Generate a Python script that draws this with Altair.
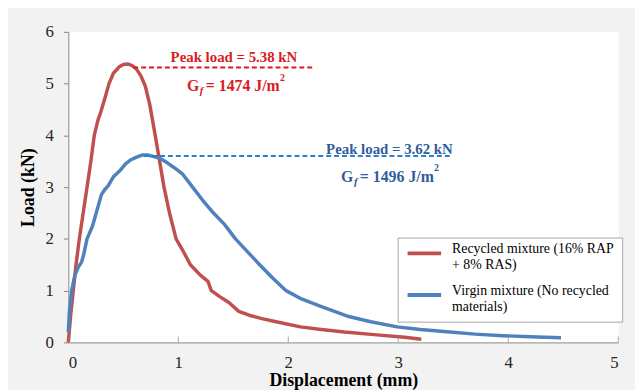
import altair as alt
import pandas as pd

# ---- data ----
series_names = ["Recycled mixture (16% RAP + 8% RAS)", "Virgin mixture (No recycled materials)"]
series_colors = ["#C0504D", "#4F81BD"]

rec_x = [0, 0.02, 0.045, 0.07, 0.10, 0.135, 0.17, 0.205, 0.236, 0.27, 0.295, 0.33, 0.37, 0.41, 0.46, 0.50,
         0.54, 0.58, 0.62, 0.66, 0.70, 0.74, 0.79, 0.83, 0.87, 0.92, 0.98, 1.04, 1.11, 1.20, 1.27, 1.30,
         1.38, 1.46, 1.55, 1.65, 1.76, 1.89, 2.11, 2.30, 2.51, 2.78, 3.06, 3.21]
rec_y = [0, 0.5, 1.0, 1.5, 2.0, 2.5, 3.0, 3.5, 4.0, 4.3, 4.45, 4.7, 5.0, 5.2, 5.32, 5.37,
         5.38, 5.35, 5.28, 5.15, 4.95, 4.6, 4.0, 3.5, 3.0, 2.5, 2.0, 1.78, 1.5, 1.3, 1.18, 1.0,
         0.88, 0.77, 0.6, 0.52, 0.46, 0.4, 0.3, 0.25, 0.2, 0.15, 0.1, 0.06]

vir_x = [0, 0.01, 0.03, 0.06, 0.09, 0.12, 0.14, 0.17, 0.22, 0.26, 0.30, 0.33, 0.36, 0.41, 0.47, 0.52,
         0.57, 0.62, 0.67, 0.72, 0.78, 0.84, 0.90, 0.96, 1.04, 1.13, 1.22, 1.32, 1.42, 1.52, 1.63, 1.74,
         1.86, 1.98, 2.12, 2.29, 2.42, 2.55, 2.75, 2.99, 3.20, 3.47, 3.70, 3.95, 4.20, 4.48]
vir_y = [0.2, 0.6, 1.0, 1.3, 1.45, 1.55, 1.7, 2.0, 2.25, 2.55, 2.85, 2.95, 3.02, 3.2, 3.32, 3.45,
         3.53, 3.58, 3.62, 3.62, 3.59, 3.55, 3.47, 3.38, 3.25, 3.0, 2.75, 2.5, 2.28, 2.0, 1.75, 1.5,
         1.24, 1.0, 0.84, 0.7, 0.6, 0.5, 0.4, 0.3, 0.25, 0.2, 0.16, 0.13, 0.11, 0.09]

# annotations
peak_x0 = [0.59, 0.69]
peak_x1 = [2.23, 3.49]
peak_line_y = [5.31, 3.60]
peak_text = ["Peak load = 5.38 kN", "Peak load = 3.62 kN"]
peak_text_x = [1.506, 2.92]
peak_text_y = [5.41, 3.645]
gf_x = [1.079, 2.48]
gf_y = [4.85, 3.10]
gf_text = ["= 1474 J/m", "= 1496 J/m"]
text_colors = ["#D91C24", "#2F5E9B"]
dash_colors = ["#E8141C", "#2A7FD4"]

x_ticks = [0, 1, 2, 3, 4, 5]
y_ticks = [0, 1, 2, 3, 4, 5, 6]

FONT = "'Liberation Serif', 'Times New Roman', serif"

curves = pd.concat([
    pd.DataFrame({"x": rec_x, "y": rec_y, "series": series_names[0], "order": range(len(rec_x))}),
    pd.DataFrame({"x": vir_x, "y": vir_y, "series": series_names[1], "order": range(len(vir_x))}),
])

ann = pd.DataFrame({
    "x0": peak_x0, "x1": peak_x1, "ly": peak_line_y,
    "ptext": peak_text, "px": peak_text_x, "py": peak_text_y,
    "gx": gf_x, "gy": gf_y, "gtext": gf_text,
    "tcolor": text_colors, "dcolor": dash_colors,
})

xscale = alt.Scale(domain=[0, 5], nice=False)
yscale = alt.Scale(domain=[0, 6], nice=False)

label_expr = ("datum.label == '" + series_names[0] + "' ? ['Recycled mixture (16% RAP', '+ 8% RAS)']"
              " : ['Virgin mixture (No recycled', 'materials)']")

lines = alt.Chart(curves).mark_line(strokeWidth=3.5, strokeJoin="round").encode(
    x=alt.X("x:Q", scale=xscale,
            axis=alt.Axis(values=x_ticks, format="d", title="Displacement (mm)", tickSize=0,
                          labelPadding=12, titlePadding=2, grid=False)),
    y=alt.Y("y:Q", scale=yscale,
            axis=alt.Axis(values=y_ticks, format="d", title="Load (kN)", tickSize=5,
                          labelPadding=10, titlePadding=8, grid=False)),
    color=alt.Color("series:N", scale=alt.Scale(domain=series_names, range=series_colors),
                    title=None,
                    legend=alt.Legend(orient="none", legendX=333, legendY=208,
                                      symbolType="M-3,0H3", symbolSize=128, symbolStrokeWidth=4,
                                      symbolOffset=11, labelOffset=20,
                                      labelFont=FONT, labelFontSize=14, labelColor="#000000",
                                      labelExpr=label_expr, labelBaseline="alphabetic",
                                      labelLimit=300, rowPadding=12, padding=8,
                                      strokeColor="#A6A6A6", fillColor="#FFFFFF")),
    order="order:Q",
)

xticks = alt.Chart(pd.DataFrame({"t": x_ticks, "z": [0] * len(x_ticks)})).mark_tick(
    orient="vertical", size=6, thickness=1, color="#888888", yOffset=-3
).encode(x=alt.X("t:Q", scale=xscale), y=alt.Y("z:Q", scale=yscale))

base = alt.Chart(ann)

dashes = base.mark_rule(strokeWidth=2, strokeDash=[5, 3]).encode(
    x=alt.X("x0:Q", scale=xscale), x2="x1:Q", y=alt.Y("ly:Q", scale=yscale),
    color=alt.Color("dcolor:N", scale=None),
)

peak_labels = base.mark_text(font=FONT, fontSize=15, fontWeight="bold", align="center",
                             baseline="alphabetic").encode(
    x=alt.X("px:Q", scale=xscale), y=alt.Y("py:Q", scale=yscale), text="ptext:N",
    color=alt.Color("tcolor:N", scale=None),
)

g_labels = base.mark_text(font=FONT, fontSize=16, fontWeight="bold", align="left",
                          baseline="alphabetic").encode(
    x=alt.X("gx:Q", scale=xscale), y=alt.Y("gy:Q", scale=yscale), text=alt.value("G"),
    color=alt.Color("tcolor:N", scale=None),
)
f_labels = base.mark_text(font=FONT, fontSize=11, fontWeight="bold", fontStyle="italic",
                          align="left", baseline="alphabetic", dx=13, dy=3).encode(
    x=alt.X("gx:Q", scale=xscale), y=alt.Y("gy:Q", scale=yscale), text=alt.value("f"),
    color=alt.Color("tcolor:N", scale=None),
)
eq_labels = base.mark_text(font=FONT, fontSize=16, fontWeight="bold", align="left",
                           baseline="alphabetic", dx=19).encode(
    x=alt.X("gx:Q", scale=xscale), y=alt.Y("gy:Q", scale=yscale), text="gtext:N",
    color=alt.Color("tcolor:N", scale=None),
)
sup_labels = base.mark_text(font=FONT, fontSize=10, fontWeight="bold", align="left",
                            baseline="alphabetic", dx=94, dy=-11).encode(
    x=alt.X("gx:Q", scale=xscale), y=alt.Y("gy:Q", scale=yscale), text=alt.value("2"),
    color=alt.Color("tcolor:N", scale=None),
)

chart = alt.layer(lines, xticks, dashes, peak_labels, g_labels, f_labels, eq_labels, sup_labels).resolve_scale(
    color="independent"
).properties(
    width=556, height=314,
    autosize=alt.AutoSizeParams(type="none"),
    padding={"left": 61, "top": 22, "right": 17, "bottom": 46},
    background="#F2F2F2",
).configure_view(
    fill="#FFFFFF", stroke="transparent"
).configure_axis(
    domainColor="#888888", tickColor="#888888",
    labelFont=FONT, labelFontSize=17, labelColor="#262626",
    titleFont=FONT, titleFontSize=18, titleFontWeight="bold", titleColor="#000000",
)

chart.save("out.html", embed_options={"renderer": "svg", "actions": False})
